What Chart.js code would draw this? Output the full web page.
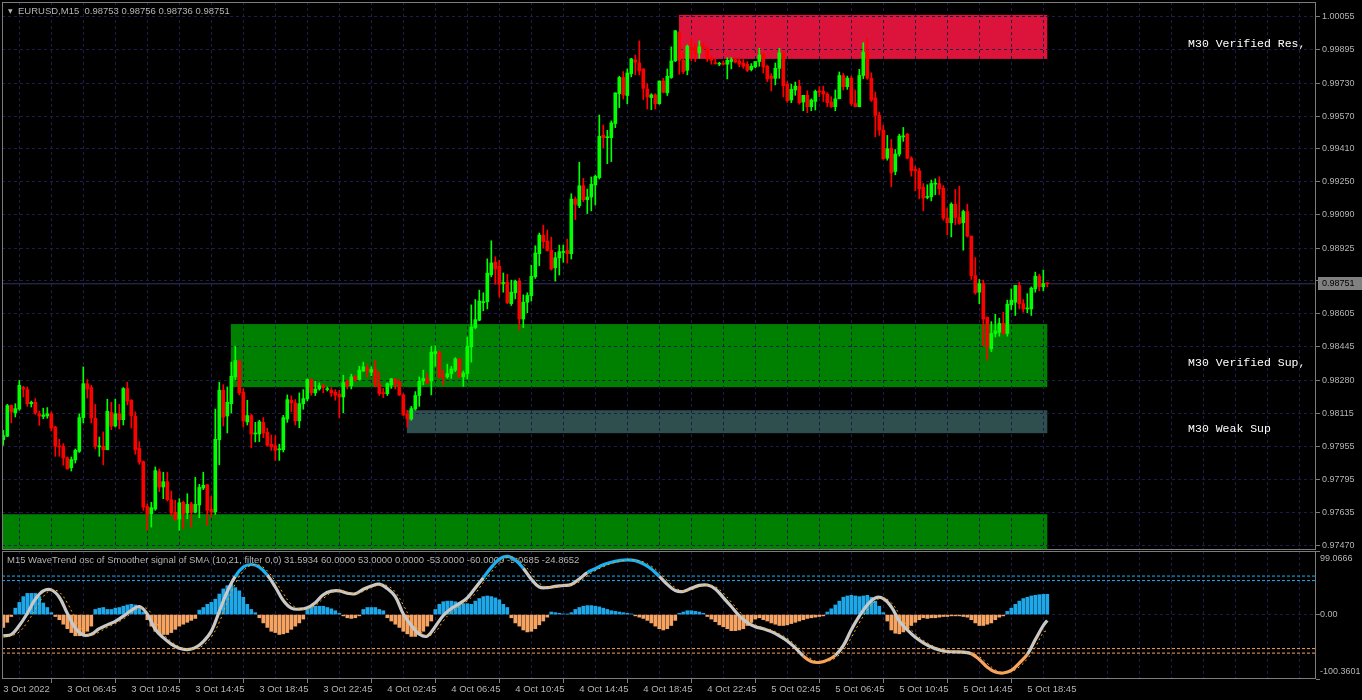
<!DOCTYPE html>
<html>
<head>
<meta charset="utf-8">
<script src="https://cdn.jsdelivr.net/npm/chart.js@4.4.1/dist/chart.umd.min.js"></script>
<style>
  html, body { margin: 0; padding: 0; background: #000; overflow: hidden; }
  #priceChart { position: absolute; left: 0; top: 0; }
  #oscChart { position: absolute; left: 0; top: 550px; }
</style>
</head>
<body>
<canvas id="priceChart" width="1362" height="550"></canvas>
<canvas id="oscChart" width="1362" height="150"></canvas>
<script>
// ---- EURUSD M15 candles, bar 0 = 3 Oct 02:45 ----
const opens = [
  0.97989,0.98006,0.98156,0.98120,0.98139,0.98244,0.98234,0.98165,0.98172,0.98116,
  0.98103,0.98105,0.98116,0.98051,0.97958,0.97957,0.97901,0.97852,0.97890,0.97932,
  0.98097,0.98263,0.98244,0.98094,0.97954,0.97957,0.97940,0.98123,0.98056,0.98116,
  0.98087,0.98239,0.98182,0.98103,0.97947,0.97882,0.97663,0.97627,0.97650,0.97833,
  0.97758,0.97784,0.97696,0.97634,0.97601,0.97683,0.97631,0.97676,0.97634,0.97670,
  0.97753,0.97769,0.97649,0.97636,0.97989,0.98231,0.98105,0.98165,0.98296,0.98372,
  0.98221,0.98076,0.98107,0.98017,0.98017,0.98074,0.98025,0.97967,0.97960,0.97940,
  0.97940,0.98090,0.98182,0.98169,0.98081,0.98165,0.98188,0.98283,0.98218,0.98237,
  0.98253,0.98234,0.98231,0.98221,0.98211,0.98198,0.98276,0.98253,0.98299,0.98283,
  0.98325,0.98340,0.98319,0.98332,0.98260,0.98218,0.98214,0.98257,0.98283,0.98270,
  0.98208,0.98113,0.98090,0.98139,0.98205,0.98276,0.98289,0.98276,0.98410,0.98416,
  0.98302,0.98296,0.98312,0.98329,0.98384,0.98296,0.98312,0.98443,0.98537,0.98573,
  0.98659,0.98663,0.98795,0.98857,0.98837,0.98752,0.98759,0.98654,0.98707,0.98764,
  0.98579,0.98661,0.98693,0.98785,0.98898,0.98989,0.98960,0.98914,0.98829,0.98878,
  0.98904,0.98914,0.98898,0.99165,0.99133,0.99230,0.99162,0.99175,0.99234,0.99270,
  0.99478,0.99465,0.99465,0.99534,0.99680,0.99759,0.99671,0.99778,0.99845,0.99830,
  0.99801,0.99703,0.99661,0.99674,0.99631,0.99742,0.99684,0.99759,0.99840,0.99980,
  0.99843,0.99794,0.99905,0.99909,0.99879,0.99912,0.99902,0.99856,0.99830,0.99824,
  0.99827,0.99824,0.99837,0.99847,0.99840,0.99830,0.99824,0.99798,0.99811,0.99837,
  0.99869,0.99814,0.99765,0.99755,0.99804,0.99876,0.99726,0.99649,0.99698,0.99717,
  0.99639,0.99672,0.99616,0.99642,0.99693,0.99691,0.99678,0.99639,0.99616,0.99655,
  0.99769,0.99714,0.99756,0.99632,0.99616,0.99769,0.99880,0.99756,0.99659,0.99574,
  0.99502,0.99365,0.99414,0.99300,0.99385,0.99469,0.99482,0.99365,0.99310,0.99303,
  0.99222,0.99173,0.99176,0.99238,0.99241,0.99218,0.99072,0.99049,0.99140,0.99075,
  0.99049,0.99104,0.98984,0.98791,0.98710,0.98752,0.98586,0.98433,0.98508,0.98514,
  0.98557,0.98508,0.98648,0.98661,0.98743,0.98654,0.98628,0.98628,0.98726,0.98788,
  0.98736,0.98753
];
const highs = [
  0.98035,0.98162,0.98159,0.98165,0.98279,0.98250,0.98247,0.98178,0.98190,0.98129,
  0.98143,0.98146,0.98125,0.98055,0.97991,0.97970,0.97905,0.97905,0.97944,0.98116,
  0.98345,0.98283,0.98255,0.98162,0.98002,0.98027,0.98187,0.98172,0.98187,0.98162,
  0.98244,0.98270,0.98185,0.98125,0.97980,0.97885,0.97676,0.97683,0.97856,0.97846,
  0.97830,0.97830,0.97738,0.97693,0.97701,0.97689,0.97725,0.97684,0.97805,0.97771,
  0.97830,0.97771,0.97712,0.98139,0.98270,0.98258,0.98247,0.98368,0.98446,0.98377,
  0.98239,0.98182,0.98113,0.98074,0.98084,0.98097,0.98045,0.98012,0.98009,0.97967,
  0.98108,0.98208,0.98203,0.98185,0.98218,0.98234,0.98286,0.98286,0.98276,0.98267,
  0.98260,0.98247,0.98244,0.98234,0.98231,0.98304,0.98283,0.98309,0.98304,0.98348,
  0.98368,0.98355,0.98345,0.98377,0.98320,0.98240,0.98267,0.98289,0.98289,0.98283,
  0.98214,0.98133,0.98152,0.98224,0.98296,0.98329,0.98315,0.98446,0.98449,0.98423,
  0.98329,0.98358,0.98348,0.98390,0.98387,0.98325,0.98491,0.98648,0.98674,0.98720,
  0.98707,0.98873,0.98961,0.98883,0.98866,0.98804,0.98798,0.98769,0.98769,0.98778,
  0.98697,0.98707,0.98842,0.98937,0.98999,0.99038,0.99014,0.98979,0.98904,0.98940,
  0.98940,0.98970,0.99191,0.99175,0.99345,0.99266,0.99214,0.99273,0.99283,0.99576,
  0.99527,0.99501,0.99547,0.99684,0.99765,0.99788,0.99801,0.99853,0.99869,0.99938,
  0.99801,0.99729,0.99680,0.99680,0.99742,0.99755,0.99801,0.99909,0.99990,0.99984,
  0.99879,0.99918,0.99951,0.99925,0.99938,0.99928,0.99909,0.99866,0.99850,0.99834,
  0.99840,0.99856,0.99856,0.99856,0.99856,0.99847,0.99837,0.99827,0.99837,0.99902,
  0.99879,0.99820,0.99778,0.99830,0.99902,0.99886,0.99739,0.99727,0.99737,0.99746,
  0.99672,0.99694,0.99655,0.99698,0.99714,0.99717,0.99685,0.99665,0.99698,0.99786,
  0.99779,0.99766,0.99766,0.99698,0.99799,0.99929,0.99952,0.99782,0.99688,0.99590,
  0.99525,0.99476,0.99456,0.99407,0.99482,0.99515,0.99486,0.99372,0.99326,0.99316,
  0.99241,0.99235,0.99258,0.99264,0.99274,0.99231,0.99121,0.99147,0.99212,0.99228,
  0.99111,0.99140,0.98984,0.98879,0.98772,0.98769,0.98589,0.98566,0.98602,0.98583,
  0.98612,0.98671,0.98726,0.98743,0.98759,0.98674,0.98703,0.98736,0.98808,0.98798,
  0.98818,0.98756
];
const lows = [
  0.97962,0.98004,0.98071,0.98100,0.98133,0.98198,0.98152,0.98149,0.98113,0.98059,
  0.98092,0.98094,0.98032,0.97908,0.97908,0.97864,0.97846,0.97836,0.97875,0.97927,
  0.98071,0.98193,0.98071,0.97944,0.97908,0.97866,0.97940,0.98038,0.98051,0.98042,
  0.98061,0.98159,0.98046,0.97918,0.97869,0.97644,0.97546,0.97562,0.97644,0.97735,
  0.97701,0.97689,0.97619,0.97595,0.97546,0.97554,0.97603,0.97562,0.97631,0.97608,
  0.97745,0.97570,0.97611,0.97624,0.97866,0.98056,0.98022,0.98120,0.98283,0.98208,
  0.98051,0.98061,0.97950,0.97978,0.97980,0.97999,0.97957,0.97937,0.97888,0.97888,
  0.97929,0.98074,0.98125,0.98061,0.98048,0.98138,0.98178,0.98206,0.98205,0.98231,
  0.98219,0.98227,0.98201,0.98182,0.98097,0.98120,0.98237,0.98237,0.98276,0.98280,
  0.98322,0.98296,0.98302,0.98247,0.98205,0.98195,0.98205,0.98240,0.98237,0.98205,
  0.98107,0.98051,0.98084,0.98133,0.98152,0.98257,0.98263,0.98208,0.98348,0.98289,
  0.98257,0.98289,0.98289,0.98322,0.98293,0.98250,0.98286,0.98368,0.98531,0.98570,
  0.98619,0.98628,0.98785,0.98749,0.98687,0.98710,0.98654,0.98645,0.98677,0.98524,
  0.98537,0.98609,0.98667,0.98777,0.98839,0.98927,0.98911,0.98818,0.98764,0.98794,
  0.98856,0.98852,0.98872,0.99064,0.99123,0.99152,0.99094,0.99107,0.99136,0.99263,
  0.99416,0.99338,0.99348,0.99514,0.99612,0.99654,0.99631,0.99762,0.99772,0.99772,
  0.99651,0.99605,0.99602,0.99605,0.99628,0.99684,0.99671,0.99755,0.99837,0.99775,
  0.99778,0.99772,0.99840,0.99837,0.99853,0.99895,0.99837,0.99824,0.99824,0.99817,
  0.99820,0.99752,0.99801,0.99830,0.99811,0.99804,0.99788,0.99791,0.99807,0.99814,
  0.99781,0.99739,0.99693,0.99723,0.99755,0.99664,0.99638,0.99636,0.99672,0.99629,
  0.99597,0.99587,0.99597,0.99600,0.99665,0.99642,0.99616,0.99613,0.99597,0.99655,
  0.99698,0.99701,0.99623,0.99616,0.99616,0.99753,0.99750,0.99642,0.99469,0.99476,
  0.99359,0.99355,0.99225,0.99284,0.99375,0.99447,0.99362,0.99277,0.99205,0.99166,
  0.99108,0.99166,0.99156,0.99186,0.99186,0.99062,0.98990,0.98980,0.99039,0.99042,
  0.98915,0.98980,0.98772,0.98700,0.98654,0.98449,0.98377,0.98420,0.98491,0.98495,
  0.98504,0.98495,0.98625,0.98596,0.98628,0.98612,0.98609,0.98596,0.98710,0.98717,
  0.98717,0.98736
];
const closes = [
  0.98009,0.98156,0.98125,0.98141,0.98255,0.98237,0.98165,0.98172,0.98120,0.98105,
  0.98110,0.98116,0.98046,0.97958,0.97954,0.97900,0.97846,0.97892,0.97937,0.98097,
  0.98263,0.98237,0.98095,0.97958,0.97957,0.97940,0.98128,0.98056,0.98116,0.98087,
  0.98239,0.98178,0.98107,0.97940,0.97880,0.97660,0.97624,0.97657,0.97838,0.97758,
  0.97784,0.97696,0.97631,0.97601,0.97681,0.97627,0.97673,0.97634,0.97673,0.97756,
  0.97766,0.97644,0.97636,0.97991,0.98231,0.98099,0.98172,0.98299,0.98376,0.98218,
  0.98081,0.98107,0.98017,0.98020,0.98077,0.98022,0.97962,0.97954,0.97937,0.97944,
  0.98097,0.98185,0.98169,0.98081,0.98165,0.98190,0.98283,0.98218,0.98237,0.98253,
  0.98244,0.98237,0.98218,0.98208,0.98198,0.98268,0.98253,0.98296,0.98280,0.98329,
  0.98345,0.98325,0.98332,0.98257,0.98214,0.98214,0.98263,0.98286,0.98266,0.98208,
  0.98110,0.98090,0.98141,0.98205,0.98276,0.98289,0.98266,0.98416,0.98420,0.98296,
  0.98296,0.98312,0.98335,0.98384,0.98296,0.98315,0.98446,0.98539,0.98576,0.98667,
  0.98663,0.98803,0.98853,0.98824,0.98749,0.98757,0.98658,0.98710,0.98764,0.98579,
  0.98661,0.98694,0.98787,0.98901,0.98989,0.98957,0.98914,0.98823,0.98878,0.98908,
  0.98909,0.98898,0.99165,0.99139,0.99230,0.99162,0.99175,0.99237,0.99276,0.99472,
  0.99465,0.99470,0.99537,0.99684,0.99759,0.99674,0.99781,0.99850,0.99834,0.99791,
  0.99706,0.99664,0.99674,0.99631,0.99742,0.99687,0.99765,0.99840,0.99987,0.99843,
  0.99788,0.99912,0.99895,0.99876,0.99909,0.99902,0.99850,0.99843,0.99827,0.99827,
  0.99824,0.99843,0.99847,0.99834,0.99824,0.99814,0.99794,0.99814,0.99837,0.99869,
  0.99811,0.99752,0.99755,0.99804,0.99879,0.99719,0.99646,0.99701,0.99717,0.99636,
  0.99672,0.99616,0.99649,0.99691,0.99688,0.99678,0.99636,0.99616,0.99655,0.99769,
  0.99714,0.99756,0.99632,0.99616,0.99769,0.99883,0.99756,0.99649,0.99574,0.99502,
  0.99362,0.99411,0.99293,0.99385,0.99473,0.99474,0.99365,0.99303,0.99303,0.99215,
  0.99170,0.99178,0.99241,0.99243,0.99215,0.99072,0.99049,0.99140,0.99075,0.99046,
  0.99104,0.98984,0.98791,0.98707,0.98752,0.98579,0.98443,0.98508,0.98521,0.98557,
  0.98508,0.98651,0.98671,0.98743,0.98654,0.98628,0.98632,0.98730,0.98788,0.98736,
  0.98752,0.98751
];

// price axis labels (0.98765 sits under the bid label)
const priceTicks = [1.00055,0.99895,0.99730,0.99570,0.99410,0.99250,0.99090,0.98925,0.98765,
                    0.98605,0.98445,0.98280,0.98115,0.97955,0.97795,0.97635,0.97470];
const hiddenPriceTick = 0.98765;

// time axis labels, one every 16 bars
const timeLabels = ['3 Oct 2022','3 Oct 06:45','3 Oct 10:45','3 Oct 14:45','3 Oct 18:45','3 Oct 22:45',
                    '4 Oct 02:45','4 Oct 06:45','4 Oct 10:45','4 Oct 14:45','4 Oct 18:45','4 Oct 22:45',
                    '5 Oct 02:45','5 Oct 06:45','5 Oct 10:45','5 Oct 14:45','5 Oct 18:45'];

// supply / demand zones
const zoneNames  = ['M30 Verified Res,', 'M30 Verified Sup,', 'M30 Weak Sup', ''];
const zoneKinds  = ['res', 'sup', 'weak', 'sup'];
const zoneFrom   = [168.9, 56.9, 100.9, -1];
const zoneTo     = [261, 261, 261, 261];
const zoneTop    = [1.00065, 0.98554, 0.98133, 0.97625];
const zoneBottom = [0.99850, 0.98246, 0.98021, 0.97400];
const zoneLabelBar = 296.2;

// WaveTrend oscillator
const waveHist = [
  -20,-12,-3,10,19,28,33,33,33,28,18,11,3,
  -3,-8,-15,-22,-28,-33,-33,-31,-26,-18,
  8,10,11,8,8,10,11,13,15,16,15,11,4,
  -8,-18,-26,-30,-31,-31,-28,-23,-18,-15,-12,-9,-6,
  7,11,16,19,24,32,40,45,47,42,37,27,16,8,3,
  -5,-13,-20,-26,-28,-31,-30,-28,-23,-18,-13,-7,
  8,11,13,13,13,11,9,6,2,
  -2,-5,-6,-5,-2,
  8,11,11,11,8,6,
  -5,-10,-15,-20,-26,-30,-34,-34,-31,-26,-18,-10,
  8,16,20,21,21,20,19,17,17,16,21,25,28,29,28,26,23,16,11,
  -5,-13,-18,-24,-27,-26,-22,-16,-10,-4,
  4,3,2,1,1,3,
  8,11,13,14,14,13,12,10,8,6,5,4,3,2,1,
  -2,-4,-6,-9,-13,-18,-22,-24,-22,-17,-9,
  2,4,6,6,5,4,2,
  -3,-7,-11,-16,-19,-22,-25,-25,-24,-22,-17,-12,-7,
  -5,-8,-10,-13,-15,-17,-17,-16,-14,-12,-10,-8,-6,-5,-4,-3,
  -2,
  4,9,15,21,27,29,30,29,28,29,30,27,21,13,3,
  -10,-24,-29,-30,-27,-22,-17,-12,-8,-5,
  -6,-5,-5,-4,-3,-3,-2,-2,-2,-3,-4,-8,-13,-17,-17,-15,-13,-8,-4,-2,
  5,10,16,21,25,27,29,30,31,31.5,31.5934
];
// main line and signal, read every 2nd bar, last value at the last bar
const waveMain = [
  -33,-31,-17,2,24,37,38.5,27,2,-21,
  -32,-30.5,-22,-16,-10.5,-2.5,6.5,12.5,0.5,-23,
  -36,-46,-52.5,-54.5,-51.5,-42,-26,5,36,59.5,
  74,78,74,61.5,43,22,10,8.4,10.5,18.5,
  31,36.5,37,33.3,32.5,39.5,44.5,47.4,40.5,28,
  1,-17,-30.5,-33.5,-18.5,-1.5,9.5,17,26,41.5,
  57.5,73.5,86.5,90.8,85,72,55,43,42,44,
  45.3,47,55.5,65.5,71.5,77.5,81.5,84,85.3,84,
  79,71,59.5,47,37.5,36,41,45.5,46,40,
  26.5,12.5,-2,-12.5,-19,-22,-26.5,-33,-41,-52,
  -64.5,-73,-74.5,-71,-63.5,-48.5,-23.7,-2.5,15,26,
  25,12,-10,-24,-35.5,-44,-50.5,-55,-57.5,-58,
  -58.5,-61,-70,-82,-89.5,-91,-87,-75.5,-62,-39,
  -17,-9.0685
];
const waveSignal = [
  -35,-33,-27,-12,8,28,38,35,18,-6,
  -25,-32,-27,-20,-14,-7,2,9.5,9,-10,
  -30,-42,-50,-54,-53.5,-48,-35,-12,20,48,
  68,77,77,68,52,33,16,9,9,14,
  25,34,37,35,33,36,42,46,45,35,
  15,-8,-24,-33,-27,-10,4,13,21.5,33,
  50,66,80,89,88.5,79,64,49,42.5,43,
  44.5,46,51,60.5,68.5,74.5,79.5,83,85,85,
  82,75.5,65.5,53,42,36.5,38.5,43.5,46,43.5,
  33.5,19.5,5,-7.5,-16,-20.5,-24,-30,-37,-47,
  -58,-69,-74,-73,-67.5,-56,-36,-13,6.5,21,
  26,18.5,1,-17,-30,-40,-47.5,-53,-56.5,-58,
  -58.3,-60,-65.5,-76,-86,-90.5,-89,-81.5,-69,-51,
  -28,-24.8652
];
const waveLevels = [60, 53, -53, -60];
const oscTicks = [99.0666, 0, -100.3601];

// ---- look ----
const UP = '#00ff00', DOWN = '#ff0000';
const GRID = '#1d1d4c', FRAME = '#7c7c7c', TEXT = '#b4b4b4';
const AXIS_FONT = { family: 'Liberation Sans', size: 9.5 };
const PRICE_FONT = { family: 'Liberation Sans', size: 9 };
const ZONE_COLORS = { res: '#dc143c', sup: '#008000', weak: '#2f4f4f' };
const HIST_UP = '#1ea8ea', HIST_DN = '#f7a463';
const LINE_GRAY = '#c8c8c8', LINE_BLUE = '#1cb0f2', LINE_ORANGE = '#f7a463';
const X_MIN = -0.325, X_MAX = 328.175;
const gridBars = [];
for (let b = 0; b <= 328; b += 8) gridBars.push(b);

const lastBar = closes.length - 1;
const lastPrice = closes[lastBar];

Chart.defaults.font.family = 'Liberation Sans';

// ---- main price chart ----
const wickData = closes.map((c, i) => ({ x: i, y: [lows[i], highs[i]] }));
const bodyData = closes.map((c, i) => ({ x: i, y: [opens[i], c] }));
const candleColors = closes.map((c, i) => c >= opens[i] ? UP : DOWN);

const zonesPlugin = {
  id: 'zones',
  beforeDraw(chart) {
    const { ctx, chartArea, scales: { x, y } } = chart;
    ctx.save();
    ctx.beginPath();
    ctx.rect(chartArea.left, chartArea.top, chartArea.right - chartArea.left, chartArea.bottom - chartArea.top);
    ctx.clip();
    zoneKinds.forEach((kind, i) => {
      const x0 = Math.max(x.getPixelForValue(zoneFrom[i]), chartArea.left);
      const x1 = x.getPixelForValue(zoneTo[i]);
      const y0 = y.getPixelForValue(zoneTop[i]);
      const y1 = y.getPixelForValue(zoneBottom[i]);
      ctx.fillStyle = ZONE_COLORS[kind];
      ctx.fillRect(x0, y0, x1 - x0, y1 - y0);
    });
    ctx.restore();
  },
  afterDraw(chart) {
    const { ctx, chartArea, scales: { x, y } } = chart;
    ctx.save();
    // frame
    ctx.strokeStyle = FRAME;
    ctx.lineWidth = 1;
    ctx.strokeRect(chartArea.left + 0.5, chartArea.top + 0.5,
                   chartArea.right - chartArea.left - 1, chartArea.bottom - chartArea.top);
    // zone names
    ctx.fillStyle = '#ffffff';
    ctx.font = '11.5px "Liberation Mono"';
    ctx.textBaseline = 'middle';
    ctx.textAlign = 'left';
    zoneNames.forEach((name, i) => {
      if (!name) return;
      const mid = (y.getPixelForValue(zoneTop[i]) + y.getPixelForValue(zoneBottom[i])) / 2;
      ctx.fillText(name, x.getPixelForValue(zoneLabelBar), mid + 7.5);
    });
    // symbol title
    ctx.fillStyle = TEXT;
    ctx.font = '6px "DejaVu Sans"';
    ctx.fillText('\u25BC', 8, 11);
    ctx.font = '9.5px "Liberation Sans"';
    ctx.fillText('EURUSD,M15  ' + [opens[lastBar], highs[lastBar], lows[lastBar], lastPrice]
                 .map(v => v.toFixed(5)).join(' '), 18, 11);
    // bid label
    const py = Math.round(y.getPixelForValue(lastPrice));
    ctx.fillStyle = '#808080';
    ctx.fillRect(chartArea.right + 2, py - 7, 44, 13);
    ctx.fillStyle = '#000000';
    ctx.font = '9px "Liberation Sans"';
    ctx.fillText(lastPrice.toFixed(5), chartArea.right + 6, py);
    ctx.restore();
  }
};

new Chart(document.getElementById('priceChart'), {
  type: 'bar',
  data: {
    datasets: [
      {
        type: 'line',
        data: [{ x: X_MIN, y: lastPrice }, { x: X_MAX, y: lastPrice }],
        borderColor: '#34345e',
        borderWidth: 1,
        pointRadius: 0,
        order: 5
      },
      {
        data: wickData,
        backgroundColor: candleColors,
        barThickness: 1,
        grouped: false,
        order: 3
      },
      {
        data: bodyData,
        backgroundColor: candleColors,
        barThickness: 3,
        minBarLength: 1,
        grouped: false,
        order: 2
      }
    ]
  },
  options: {
    responsive: false,
    animation: false,
    events: [],
    layout: { padding: { left: 2, top: 2, right: 0, bottom: 1 } },
    plugins: { legend: { display: false }, tooltip: { enabled: false } },
    scales: {
      x: {
        type: 'linear',
        min: X_MIN,
        max: X_MAX,
        offset: false,
        afterBuildTicks: s => { s.ticks = gridBars.map(v => ({ value: v })); },
        afterFit: s => { s.height = 0; s.paddingLeft = 0; s.paddingRight = 0; },
        ticks: { display: false },
        grid: { color: GRID, drawTicks: false },
        border: { display: false, dash: [3, 3] }
      },
      y: {
        position: 'right',
        min: 0.97455,
        max: 1.00128,
        afterBuildTicks: s => { s.ticks = priceTicks.map(v => ({ value: v })); },
        afterFit: s => { s.width = 46; s.paddingTop = 0; s.paddingBottom = 0; },
        ticks: {
          color: TEXT,
          font: PRICE_FONT,
          padding: 2,
          callback: v => v === hiddenPriceTick ? '' : v.toFixed(5)
        },
        grid: { color: GRID, tickColor: FRAME, tickLength: 4 },
        border: { display: false, dash: [3, 3] }
      }
    }
  },
  plugins: [zonesPlugin]
});

// ---- WaveTrend panel ----
const histData = waveHist.map((v, i) => ({ x: i, y: v }));
const mainData = waveMain.map((v, k) => ({ x: Math.min(k * 2, lastBar), y: v }));
const signalData = waveSignal.map((v, k) => ({ x: Math.min(k * 2, lastBar), y: v }));

const oscPlugin = {
  id: 'oscDecor',
  beforeDatasetsDraw(chart) {
    const { ctx, chartArea } = chart;
    ctx.save();
    ctx.fillStyle = TEXT;
    ctx.font = '9.5px "Liberation Sans"';
    ctx.textBaseline = 'middle';
    ctx.fillText('M15 WaveTrend osc of Smoother signal of SMA (10,21, filter 0,0) ' +
      [waveHist[lastBar]].concat(waveLevels.slice(0, 2), [0], waveLevels.slice(2),
        [waveMain[waveMain.length - 1], waveSignal[waveSignal.length - 1]])
        .map(v => v.toFixed(4)).join(' '),
      chartArea.left + 5, chartArea.top + 9.5);
    ctx.restore();
  },
  afterDraw(chart) {
    const { ctx, chartArea, scales: { y } } = chart;
    ctx.save();
    ctx.strokeStyle = FRAME;
    ctx.lineWidth = 1;
    ctx.strokeRect(chartArea.left + 0.5, chartArea.top + 0.5,
                   chartArea.right - chartArea.left - 1, chartArea.bottom - chartArea.top - 1);
    ctx.fillStyle = TEXT;
    ctx.font = '9px "Liberation Sans"';
    ctx.textBaseline = 'middle';
    oscTicks.forEach(v => {
      const py = Math.min(Math.max(y.getPixelForValue(v), chartArea.top + 7.5), chartArea.bottom - 7);
      ctx.fillText(v === 0 ? '0.00' : v.toFixed(4), chartArea.right + 4, py);
    });
    ctx.restore();
  }
};

const levelSets = waveLevels.map(lv => ({
  type: 'line',
  data: [{ x: X_MIN, y: lv }, { x: X_MAX, y: lv }],
  borderColor: lv > 0 ? LINE_BLUE : LINE_ORANGE,
  borderWidth: 1,
  borderDash: [3, 2],
  pointRadius: 0,
  order: 4
}));

new Chart(document.getElementById('oscChart'), {
  type: 'bar',
  data: {
    datasets: [
      {
        data: histData,
        backgroundColor: waveHist.map(v => v >= 0 ? HIST_UP : HIST_DN),
        barThickness: 3,
        grouped: false,
        order: 6
      },
      ...levelSets,
      {
        type: 'line',
        data: mainData,
        borderWidth: 3.2,
        borderColor: LINE_GRAY,
        tension: 0.4,
        pointRadius: 0,
        segment: {
          borderColor: c => {
            const a = c.p0.parsed.y, b = c.p1.parsed.y;
            if (a >= 57 && b >= 57) return LINE_BLUE;
            if (a <= -60 && b <= -60) return LINE_ORANGE;
            return LINE_GRAY;
          }
        },
        order: 2
      },
      {
        type: 'line',
        data: signalData,
        borderWidth: 1,
        borderColor: '#ffa500',
        borderDash: [2, 3],
        tension: 0.4,
        pointRadius: 0,
        order: 1
      }
    ]
  },
  options: {
    responsive: false,
    animation: false,
    events: [],
    layout: { padding: { left: 2, top: 1, right: 0, bottom: 0 } },
    plugins: { legend: { display: false }, tooltip: { enabled: false } },
    scales: {
      x: {
        type: 'linear',
        min: X_MIN,
        max: X_MAX,
        offset: false,
        afterBuildTicks: s => { s.ticks = gridBars.map(v => ({ value: v })); },
        afterFit: s => { s.height = 21; s.paddingLeft = 0; s.paddingRight = 0; },
        ticks: {
          color: TEXT,
          font: AXIS_FONT,
          align: 'start',
          padding: 1,
          maxRotation: 0,
          autoSkip: false,
          callback: v => (v % 16 === 0 && v / 16 < timeLabels.length) ? timeLabels[v / 16] : ''
        },
        grid: {
          color: GRID,
          tickLength: 4,
          tickColor: c => (c.tick && c.tick.value % 16 === 0 && c.tick.value / 16 < timeLabels.length) ? FRAME : 'rgba(0,0,0,0)'
        },
        border: { display: false, dash: [3, 3] }
      },
      y: {
        position: 'right',
        min: oscTicks[2],
        max: oscTicks[0],
        afterBuildTicks: s => { s.ticks = oscTicks.map(v => ({ value: v })); },
        afterFit: s => { s.width = 46; s.paddingTop = 0; s.paddingBottom = 0; },
        ticks: { display: false },
        grid: {
          color: c => (c.tick && c.tick.value === 0) ? GRID : 'rgba(0,0,0,0)',
          tickColor: FRAME,
          tickLength: 4
        },
        border: { display: false, dash: [3, 3] }
      }
    }
  },
  plugins: [oscPlugin]
});
</script>
</body>
</html>
